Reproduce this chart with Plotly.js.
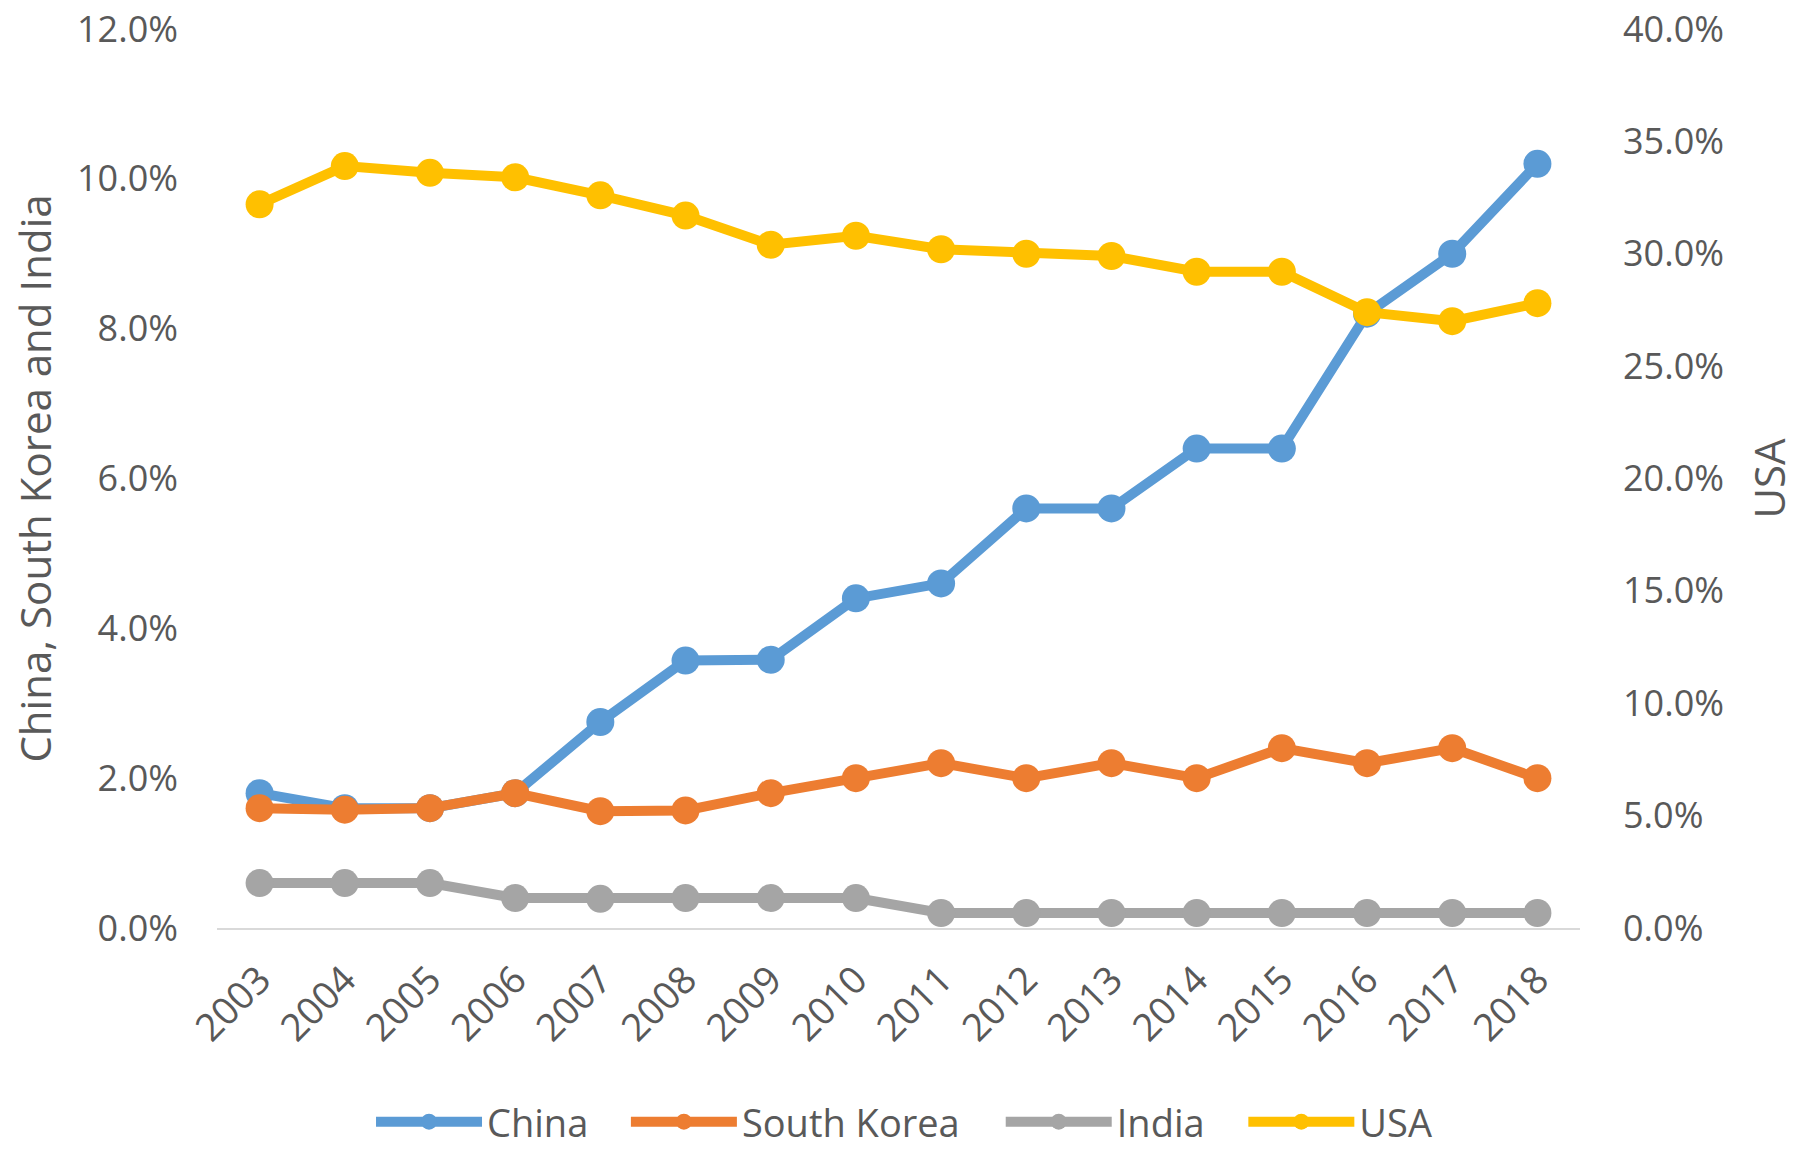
<!DOCTYPE html>
<html>
<head>
<meta charset="utf-8">
<script src="https://cdn.plot.ly/plotly-3.0.1.min.js"></script>
<style>html,body{margin:0;padding:0;background:#fff;}#chart{width:1800px;height:1151px;}</style>
</head>
<body>
<div id="chart"></div>
<script>
const years = ["2003","2004","2005","2006","2007","2008","2009","2010","2011","2012","2013","2014","2015","2016","2017","2018"];
const china = [1.8,1.6,1.6,1.8,2.75,3.57,3.58,4.4,4.6,5.6,5.6,6.4,6.4,8.2,9.0,10.2];
const southKorea = [1.6,1.58,1.6,1.8,1.56,1.57,1.8,2.0,2.2,2.0,2.2,2.0,2.4,2.2,2.4,2.0];
const india = [0.6,0.6,0.6,0.4,0.39,0.4,0.4,0.4,0.2,0.2,0.2,0.2,0.2,0.2,0.2,0.2];
const usa = [32.2,33.9,33.6,33.4,32.6,31.7,30.4,30.8,30.2,30.0,29.9,29.2,29.2,27.4,27.0,27.8];

const leftTicks = [0,2,4,6,8,10,12];
const rightTicks = [0,5,10,15,20,25,30,35,40];

const FONT = 'Open Sans, sans-serif';
const TXT = '#595959';

function series(name, y, color, axis, legendId) {
  return {
    type: 'scatter', mode: 'lines+markers', name: name,
    x: years, y: y, yaxis: axis, legend: legendId,
    line: {color: color, width: 10},
    marker: {color: color, size: 28},
    cliponaxis: false
  };
}

const data = [
  series('China', china, '#5B9BD5', 'y', 'legend'),
  series('South Korea', southKorea, '#ED7D31', 'y', 'legend2'),
  series('India', india, '#A5A5A5', 'y', 'legend3'),
  series('USA', usa, '#FFC000', 'y2', 'legend4')
];

function leg(x) {
  return {
    orientation: 'h', x: x, xanchor: 'left', y: -0.2158, yanchor: 'middle',
    font: {family: FONT, size: 38, color: TXT},
    itemwidth: 106, bgcolor: 'rgba(0,0,0,0)'
  };
}

const layout = {
  width: 1800, height: 1151,
  margin: {l: 217, r: 220, t: 29, b: 223, autoexpand: false},
  paper_bgcolor: '#fff', plot_bgcolor: '#fff',
  font: {family: FONT, size: 38, color: TXT},
  showlegend: true,
  legend: leg(0.113),
  legend2: leg(0.300),
  legend3: leg(0.575),
  legend4: leg(0.753),
  xaxis: {
    type: 'category', range: [-0.5, 15.5], tickangle: -45, showgrid: false, zeroline: false,
    showline: true, linecolor: '#D9D9D9', linewidth: 2, ticks: '',
    ticklabelstandoff: 12,
    tickfont: {family: FONT, size: 38, color: TXT}
  },
  yaxis: {
    range: [0, 12], tickvals: leftTicks, ticktext: leftTicks.map(v => v.toFixed(1) + '%'),
    showgrid: false, zeroline: false, showline: false, ticks: '',
    ticklabelstandoff: 38, ticklabeloverflow: 'allow',
    tickfont: {family: FONT, size: 36, color: TXT},
    title: {text: 'China, South Korea and India', font: {family: FONT, size: 42, color: TXT}, standoff: 12}
  },
  yaxis2: {
    range: [0, 40], overlaying: 'y', side: 'right',
    tickvals: rightTicks, ticktext: rightTicks.map(v => v.toFixed(1) + '%'),
    showgrid: false, zeroline: false, showline: false, ticks: '',
    ticklabelstandoff: 42, ticklabeloverflow: 'allow',
    tickfont: {family: FONT, size: 36, color: TXT},
    title: {text: 'USA', font: {family: FONT, size: 42, color: TXT}, standoff: 32}
  }
};

Plotly.newPlot('chart', data, layout, {displayModeBar: false, staticPlot: true});
</script>
</body>
</html>
